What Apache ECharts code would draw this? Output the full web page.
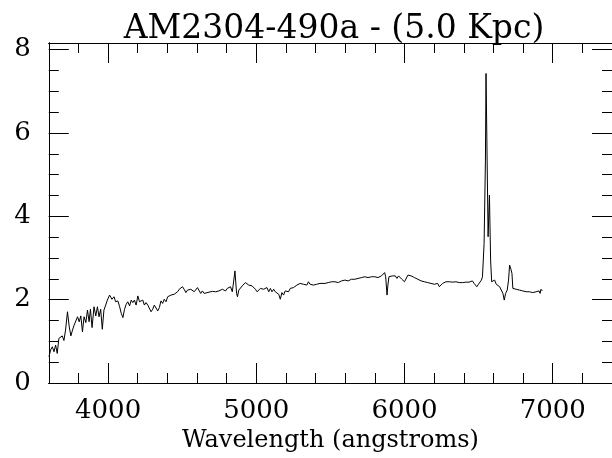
<!DOCTYPE html>
<html>
<head>
<meta charset="utf-8">
<script src="https://cdn.jsdelivr.net/npm/echarts@6/dist/echarts.min.js"></script>
<style>html,body{margin:0;padding:0;background:#fff}#c{width:612px;height:458px}</style>
</head>
<body>
<div id="c"></div>
<script>
const titleText = "AM2304-490a - (5.0 Kpc)";
const xName = "Wavelength (angstroms)";
const xMajorTicks = [4000, 5000, 6000, 7000];
const yMajorTicks = [0, 2, 4, 6, 8];

const wavelength = [
3601,3612,3624,3635,3646,3657,3668,3680,3691,3702,3713,3726,3738,3749,3760,3771,3782,3794,3805,3816,
3827,3838,3850,3861,3872,3881,3892,3905,3917,3928,3939,3950,3961,3972,3984,3995,4010,4026,4040,4051,
4066,4078,4089,4100,4111,4122,4133,4145,4156,4167,4178,4189,4201,4212,4223,4234,4245,4256,4268,4279,
4290,4301,4312,4323,4335,4346,4357,4368,4379,4391,4402,4413,4424,4435,4446,4458,4469,4480,4491,4502,
4513,4525,4536,4547,4558,4569,4581,4592,4603,4614,4625,4636,4648,4659,4681,4704,4726,4748,4771,4793,
4804,4815,4826,4838,4844,4856,4867,4873,4882,4894,4905,4916,4927,4938,4949,4961,4972,4983,4994,5005,
5017,5028,5039,5050,5061,5072,5084,5095,5106,5117,5128,5139,5151,5162,5173,5184,5195,5207,5218,5229,
5240,5251,5262,5274,5285,5296,5307,5318,5330,5341,5352,5363,5374,5385,5397,5408,5419,5430,5441,5464,
5486,5508,5520,5531,5542,5553,5564,5575,5587,5598,5620,5631,5642,5654,5665,5676,5687,5698,5710,5721,
5732,5743,5754,5765,5777,5788,5799,5810,5821,5833,5844,5855,5866,5873,5882,5888,5895,5906,5917,5929,
5938,5949,5960,5971,5982,5993,6000,6011,6023,6034,6045,6056,6067,6078,6090,6101,6112,6123,6134,6145,
6157,6168,6179,6190,6201,6213,6224,6235,6246,6257,6268,6280,6291,6302,6313,6324,6336,6347,6358,6369,
6380,6391,6403,6414,6425,6436,6447,6458,6470,6481,6488,6499,6510,6519,6521,6526,6537,6546,6550,6554,
6564,6573,6581,6588,6599,6608,6619,6631,6642,6653,6664,6673,6682,6693,6702,6709,6718,6725,6731,6742,
6754,6765,6776,6787,6798,6809,6821,6832,6843,6854,6865,6877,6888,6899,6908,6915,6921,6930
];
const flux = [
0.63,0.79,0.87,0.75,0.91,0.71,1.07,1.03,1.13,1.02,1.27,1.71,1.35,1.13,1.27,1.39,1.35,1.59,1.47,1.61,
1.23,1.59,1.45,1.75,1.47,1.77,1.33,1.83,1.61,1.83,1.59,1.77,1.29,1.75,1.87,1.99,2.11,2.01,2.07,1.95,
1.97,1.83,1.67,1.57,1.77,1.89,1.95,1.85,1.99,1.93,1.99,1.87,2.09,1.95,1.91,1.99,1.87,1.93,1.87,1.85,
1.71,1.77,1.87,1.83,1.73,1.81,1.97,1.91,2.01,1.95,2.07,2.03,2.11,2.07,2.13,2.11,2.19,2.25,2.21,2.31,
2.25,2.17,2.23,2.19,2.25,2.21,2.19,2.23,2.29,2.27,2.15,2.21,2.15,2.17,2.18,2.20,2.19,2.21,2.25,2.21,
2.27,2.25,2.31,2.19,2.35,2.69,2.15,2.07,2.23,2.27,2.33,2.29,2.41,2.37,2.35,2.31,2.33,2.29,2.25,2.19,
2.23,2.27,2.23,2.25,2.21,2.29,2.19,2.27,2.19,2.25,2.19,2.15,2.13,2.01,2.17,2.11,2.21,2.25,2.19,2.27,
2.23,2.29,2.25,2.35,2.31,2.39,2.35,2.37,2.41,2.35,2.43,2.37,2.33,2.35,2.31,2.37,2.35,2.39,2.37,2.39,
2.41,2.43,2.39,2.43,2.45,2.41,2.43,2.45,2.43,2.47,2.45,2.43,2.49,2.45,2.49,2.45,2.51,2.49,2.53,2.51,
2.55,2.57,2.53,2.49,2.55,2.51,2.55,2.51,2.53,2.53,2.57,2.53,2.65,2.55,2.11,2.35,2.55,2.59,2.57,2.55,
2.57,2.51,2.57,2.53,2.49,2.51,2.43,2.47,2.59,2.61,2.57,2.55,2.53,2.51,2.49,2.51,2.45,2.47,2.43,2.45,
2.41,2.42,2.39,2.41,2.37,2.41,2.39,2.31,2.35,2.39,2.41,2.43,2.47,2.43,2.41,2.42,2.39,2.43,2.41,2.41,
2.43,2.41,2.44,2.42,2.43,2.42,2.43,2.45,2.39,2.35,2.31,2.37,2.39,2.47,2.47,2.55,3.35,5.35,7.43,7.43,
3.51,4.51,2.95,2.43,2.39,2.47,2.37,2.41,2.31,2.33,2.15,1.99,2.15,2.23,2.47,2.83,2.73,2.63,2.27,2.31,
2.25,2.29,2.23,2.27,2.21,2.25,2.19,2.21,2.19,2.23,2.17,2.15,2.19,2.17,2.21,2.15,2.25,2.21
];

const seriesData = wavelength.map((w, i) => [w, flux[i]]);

const serif = "DejaVu Serif";
const gridRect = { left: 48.8, top: 43, right: -3.4, bottom: 75 };
const lineCol = '#000';

function xAxisCfg(grid, pos, major, labels) {
  return {
    type: 'value', gridIndex: grid, position: pos, min: 3600, max: 7400,
    interval: major ? undefined : 200,
    axisLine: { show: true, onZero: false, lineStyle: { color: lineCol, width: 1 } },
    axisTick: major
      ? { show: true, inside: true, length: 20, customValues: xMajorTicks, lineStyle: { color: lineCol, width: 1 } }
      : { show: true, inside: true, length: 10, lineStyle: { color: lineCol, width: 1 } },
    axisLabel: labels
      ? { show: true, customValues: xMajorTicks, margin: 15, fontFamily: serif, fontSize: 26, color: '#000',
          formatter: v => String(v) }
      : { show: false },
    splitLine: { show: false },
    name: labels ? xName : '',
    nameLocation: 'middle', nameGap: 46,
    nameTextStyle: { fontFamily: serif, fontSize: 24, color: '#000' }
  };
}
function yAxisCfg(grid, pos, major, labels) {
  return {
    type: 'value', gridIndex: grid, position: pos, min: 0, max: 8.16,
    interval: major ? undefined : 0.5,
    axisLine: { show: true, onZero: false, lineStyle: { color: lineCol, width: 1 } },
    axisTick: major
      ? { show: true, inside: true, length: 20, customValues: yMajorTicks, lineStyle: { color: lineCol, width: 1 } }
      : { show: true, inside: true, length: 10, lineStyle: { color: lineCol, width: 1 } },
    axisLabel: labels
      ? { show: true, customValues: yMajorTicks, margin: 18, fontFamily: serif, fontSize: 26, color: '#000',
          formatter: v => String(v) }
      : { show: false },
    splitLine: { show: false }
  };
}

const chart = echarts.init(document.getElementById('c'), null, { renderer: 'canvas' });
chart.setOption({
  animation: false,
  backgroundColor: '#fff',
  graphic: [{
    type: 'text', x: 334, y: 29,
    style: { text: titleText, fontFamily: serif, fontSize: 33, fill: '#000', textAlign: 'center', textVerticalAlign: 'middle' }
  }],
  grid: [Object.assign({}, gridRect), Object.assign({}, gridRect)],
  xAxis: [
    xAxisCfg(0, 'bottom', true, true),
    xAxisCfg(0, 'top', true, false),
    xAxisCfg(1, 'bottom', false, false),
    xAxisCfg(1, 'top', false, false)
  ],
  yAxis: [
    yAxisCfg(0, 'left', true, true),
    yAxisCfg(0, 'right', true, false),
    yAxisCfg(1, 'left', false, false),
    yAxisCfg(1, 'right', false, false)
  ],
  series: [{
    type: 'line', xAxisIndex: 0, yAxisIndex: 0,
    data: seriesData, showSymbol: false, symbol: 'none',
    lineStyle: { color: '#000', width: 1 }, silent: true
  }]
});
</script>
</body>
</html>
